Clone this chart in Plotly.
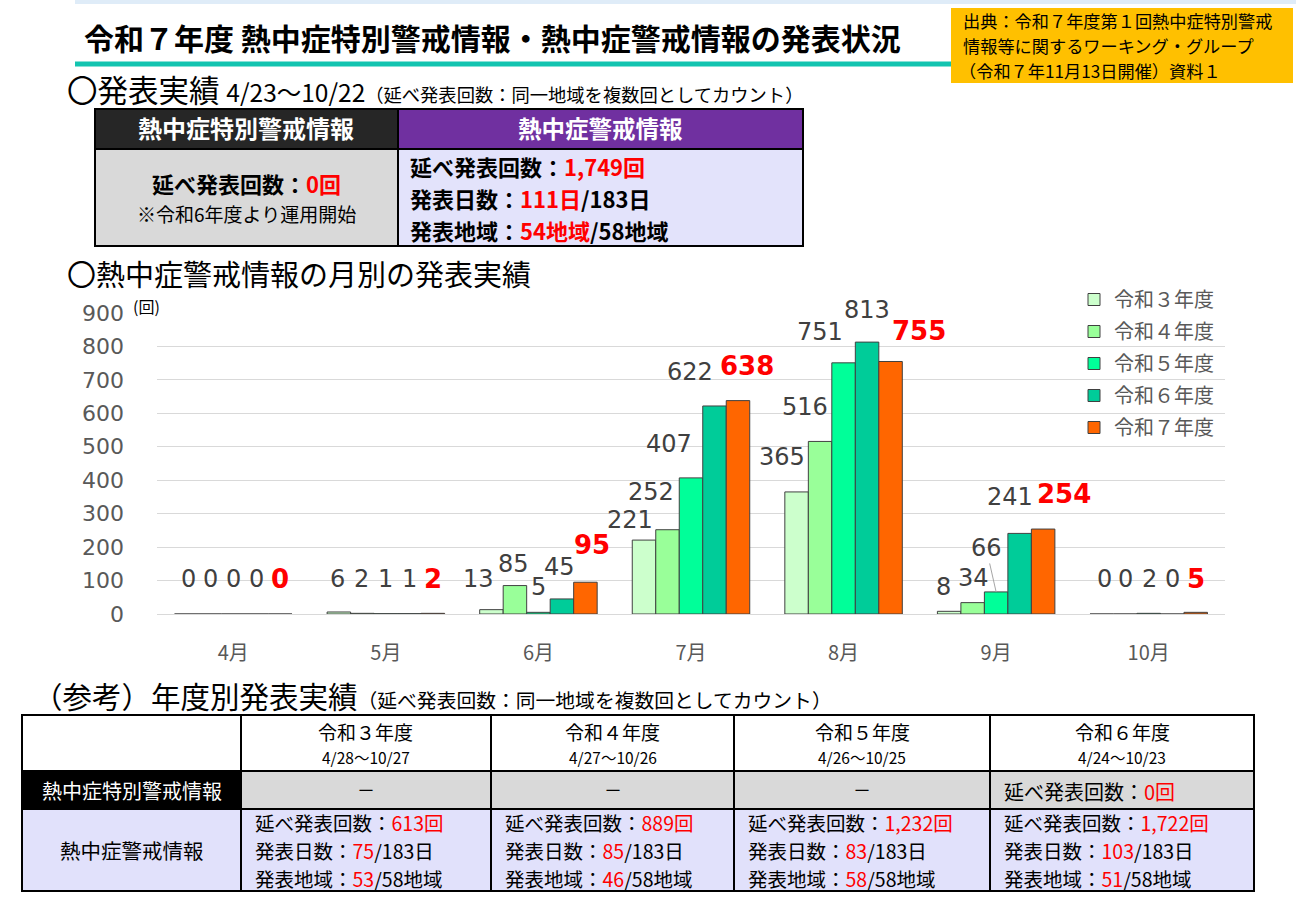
import plotly.graph_objects as go

# ---------------- data ----------------
months = ["4月", "5月", "6月", "7月", "8月", "9月", "10月"]
series_names = ["令和３年度", "令和４年度", "令和５年度", "令和６年度", "令和７年度"]
r3 = [0, 6, 13, 221, 365, 8, 0]
r4 = [0, 2, 85, 252, 516, 34, 0]
r5 = [0, 1, 5, 407, 751, 66, 2]
r6 = [0, 1, 45, 622, 813, 241, 0]
r7 = [0, 2, 95, 638, 755, 254, 5]
y_ticks = [0, 100, 200, 300, 400, 500, 600, 700, 800, 900]

hist_years = ["令和３年度", "令和４年度", "令和５年度", "令和６年度"]
hist_periods = ["4/28～10/27", "4/27～10/26", "4/26～10/25", "4/24～10/23"]
hist_counts = ["613", "889", "1,232", "1,722"]
hist_days = ["75", "85", "83", "103"]
hist_areas = ["53", "46", "58", "51"]
hist_special = ["－", "－", "－", "延べ発表回数：<span style='color:#ff0000'>0回</span>"]

# ---------------- styles ----------------
colors = ["#ccffcc", "#99ff99", "#00ff99", "#00cc99", "#ff6600"]
JP = "Noto Sans CJK JP"
NUM = "DejaVu Sans"
W, H = 1296, 901
PLOT_L, PLOT_R, PLOT_B, PLOT_T = 157, 1225, 614, 313
BARGAP = 0.23
CAT_W = (PLOT_R - PLOT_L) / len(months)
BW = CAT_W * (1 - BARGAP) / 5

# label nudges (dx px from bar centre, dy px of label centre above bar top)
nudges = [
    [(2, 35), (-1, 33), (-13, 31), (-14, 20), (-15, 35), (-6, 24), (3, 35)],
    [(1, 35), (-1, 34), (-1, 22), (-17, 38), (-15, 34), (1, 25), (0, 35)],
    [(0, 35), (0, 35), (0, 25), (-22, 34), (-24, 31), (None, None), (1, 34)],
    [(0, 35), (0, 35), (-2, 32), (-24, 34), (0, 32), (-10, 36), (0, 35)],
    [(0, 35), (0, 34), (7, 37), (9, 35), (28, 30), (21, 35), (0, 33)],
]


def X(px):
    return px / W


def Y(py):
    return 1 - py / H


fig = go.Figure()
all_series = [r3, r4, r5, r6, r7]
for name, vals, col in zip(series_names, all_series, colors):
    fig.add_trace(go.Bar(
        x=months, y=vals, name=name, legendgroup=name,
        marker=dict(color=col, line=dict(color="#404040", width=1)),
        hoverinfo="skip",
    ))

annotations = []
shapes = []

# data labels
for i, vals in enumerate(all_series):
    last = i == 4
    for j, v in enumerate(vals):
        dx, dy = nudges[i][j]
        font = dict(family=NUM, size=26 if last else 24, color="#ff0000" if last else "#404040")
        txt = f"<b>{v}</b>" if last else str(v)
        if dx is None:
            annotations.append(dict(
                x=months[j], y=v, xref="x", yref="y", text=txt, font=font,
                showarrow=True, arrowhead=0, arrowwidth=1, arrowcolor="#a6a6a6",
                ax=-10, ay=-44, xshift=(i - 2) * BW,
            ))
        else:
            annotations.append(dict(
                x=months[j], y=v, xref="x", yref="y", text=txt, font=font,
                showarrow=False, xshift=(i - 2) * BW + dx, yshift=dy,
                yanchor="middle", xanchor="center",
            ))


def text(x, y, s, size, color="#000000", xanchor="left", family=JP):
    annotations.append(dict(
        x=X(x), y=Y(y), xref="paper", yref="paper", text=s, showarrow=False,
        xanchor=xanchor, yanchor="middle", align=xanchor,
        font=dict(family=family, size=size, color=color),
    ))


def rect(x0, y0, x1, y1, fill, line="rgba(0,0,0,0)", lw=0):
    shapes.append(dict(
        type="rect", xref="paper", yref="paper", x0=X(x0), x1=X(x1), y0=Y(y1), y1=Y(y0),
        fillcolor=fill, line=dict(color=line, width=lw), layer="above",
    ))


def hline(x0, x1, y, color="#000000", lw=2):
    shapes.append(dict(type="line", xref="paper", yref="paper", x0=X(x0), x1=X(x1),
                       y0=Y(y), y1=Y(y), line=dict(color=color, width=lw), layer="above"))


def vline(x, y0, y1, color="#000000", lw=2):
    shapes.append(dict(type="line", xref="paper", yref="paper", x0=X(x), x1=X(x),
                       y0=Y(y0), y1=Y(y1), line=dict(color=color, width=lw), layer="above"))


RED = "#ff0000"


def red(s):
    return f"<span style='color:{RED}'>{s}</span>"


# ---------------- header ----------------
rect(75, 0, 1296, 4, "#dfecf8")
hline(75, 951, 64, "#13c4b0", 5)
text(82, 37, "<b>令和７年度 熱中症特別警戒情報・熱中症警戒情報の発表状況</b>", 30)
rect(951, 8, 1293, 83, "#ffc000")
text(961, 20.5, "出典：令和７年度第１回熱中症特別警戒", 17.2)
text(961, 45.5, "情報等に関するワーキング・グループ", 17.2)
text(957, 70.5, "（令和７年11月13日開催）資料１", 17.2)

text(65, 89, "〇発表実績 <span style='font-size:24.5px'>4/23～10/22</span>"
     "<span style='font-size:18.3px'>（延べ発表回数：同一地域を複数回としてカウント）</span>", 30.5)

# ---------------- top table ----------------
rect(95, 109, 398, 149, "#262626", "#000000", 2)
rect(398, 109, 803, 149, "#7030a0", "#000000", 2)
rect(95, 149, 398, 246, "#d9d9d9", "#000000", 2)
rect(398, 149, 803, 246, "#e3e3fb", "#000000", 2)
text(246, 128, "<b>熱中症特別警戒情報</b>", 24, "#ffffff", "center")
text(600, 128, "<b>熱中症警戒情報</b>", 23.5, "#ffffff", "center")
text(246, 183, "<b>延べ発表回数：" + red("0回") + "</b>", 22, "#000000", "center")
text(246, 213, "※令和6年度より運用開始", 19, "#000000", "center")
text(408, 166, "<b>延べ発表回数：" + red("1,749回") + "</b>", 22)
text(408, 198, "<b>発表日数：" + red("111日") + "/183日</b>", 22)
text(408, 230, "<b>発表地域：" + red("54地域") + "/58地域</b>", 22)

text(65, 273, "〇熱中症警戒情報の月別の発表実績", 29)
text(131, 306, "(回)", 16, "#000000", "left")

# ---------------- bottom section ----------------
text(31, 695, "（参考）年度別発表実績<span style='font-size:19.8px'>（延べ発表回数：同一地域を複数回としてカウント）</span>", 29.5)

cols = [22, 241, 491, 734, 990, 1254]
rows = [715, 771, 809, 891]
rect(cols[0], rows[0], cols[-1], rows[1], "#ffffff")
rect(cols[0], rows[1], cols[1], rows[2], "#000000")
rect(cols[1], rows[1], cols[-1], rows[2], "#d9d9d9")
rect(cols[0], rows[2], cols[-1], rows[3], "#e1e1fb")
for r in rows:
    hline(cols[0] - 1, cols[-1] + 1, r)
for c in cols:
    vline(c, rows[0], rows[3])

text((cols[0] + cols[1]) / 2, 790, "熱中症特別警戒情報", 20, "#ffffff", "center")
text((cols[0] + cols[1]) / 2, 850, "熱中症警戒情報", 20.5, "#000000", "center")
for k in range(4):
    cx = (cols[k + 1] + cols[k + 2]) / 2
    lx = cols[k + 1] + 12
    text(cx, 731, hist_years[k], 19, "#000000", "center")
    text(cx, 756.5, hist_periods[k], 15.5, "#000000", "center")
    if hist_special[k] == "－":
        text(cx, 789, hist_special[k], 18, "#000000", "center")
    else:
        text(lx, 791, hist_special[k], 20, "#000000", "left")
    text(lx, 822, "延べ発表回数：" + red(hist_counts[k] + "回"), 19.5)
    text(lx, 850.3, "発表日数：" + red(hist_days[k]) + "/183日", 19.5)
    text(lx, 878.6, "発表地域：" + red(hist_areas[k]) + "/58地域", 19.5)

fig.update_layout(
    width=W, height=H, autosize=False,
    margin=dict(l=0, r=0, t=0, b=0, pad=0, autoexpand=False),
    paper_bgcolor="#ffffff", plot_bgcolor="rgba(0,0,0,0)",
    barmode="group", bargap=BARGAP, bargroupgap=0,
    showlegend=True,
    legend=dict(x=X(1074), y=Y(280), xanchor="left", yanchor="top",
                font=dict(family=JP, size=20, color="#595959"),
                bgcolor="rgba(0,0,0,0)", tracegroupgap=3, traceorder="grouped"),
    xaxis=dict(domain=[X(PLOT_L), X(PLOT_R)], type="category", showgrid=False,
               tickfont=dict(family=JP, size=20, color="#595959"), ticks="",
               ticklabelstandoff=25, showline=False, zeroline=False, automargin=False),
    yaxis=dict(domain=[Y(PLOT_B), Y(PLOT_T)], range=[0, 900], tickvals=y_ticks,
               showgrid=True, gridcolor="#d9d9d9", gridwidth=1, zeroline=True,
               zerolinecolor="#d9d9d9", zerolinewidth=1,
               tickfont=dict(family=NUM, size=22, color="#595959"), ticks="",
               ticklabelstandoff=32, automargin=False),
    annotations=annotations,
    shapes=shapes,
)

fig.write_html("out.html")
